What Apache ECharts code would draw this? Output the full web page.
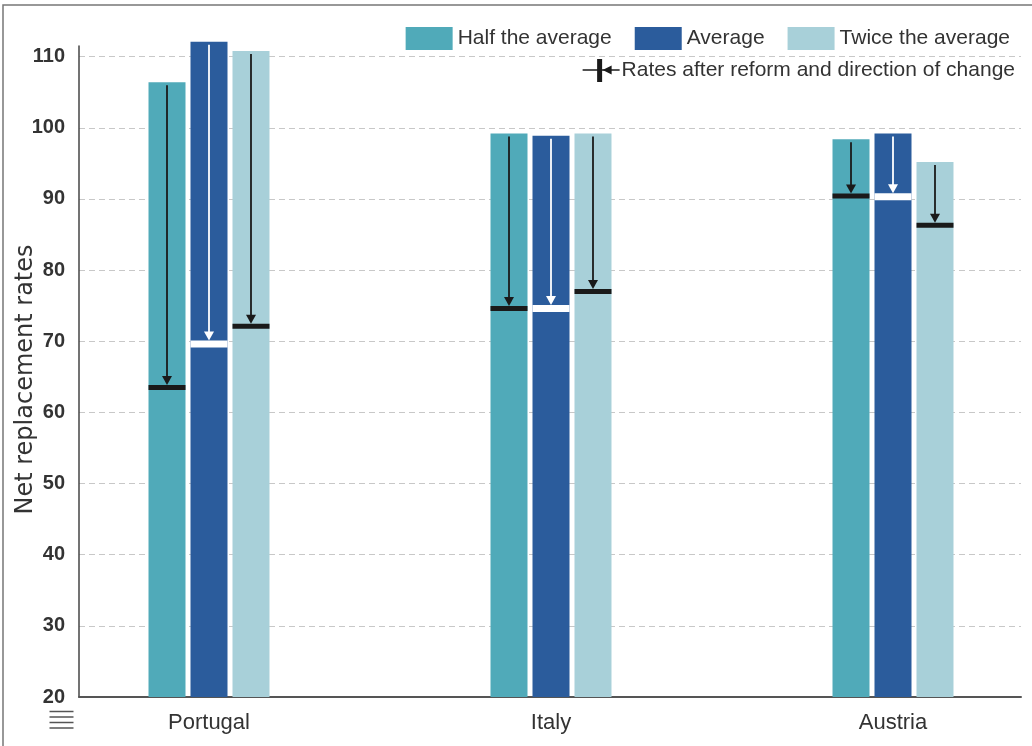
<!DOCTYPE html>
<html>
<head>
<meta charset="utf-8">
<title>Net replacement rates before and after reform</title>
<script src="https://cdn.jsdelivr.net/npm/echarts@6/dist/echarts.min.js"></script>
<style>
  html, body { margin: 0; padding: 0; background: #fff; }
  #chart { width: 1032px; height: 746px; }
</style>
</head>
<body>
<div id="chart"></div>
<script>
// Countries and earnings levels
const categories = ['Portugal', 'Italy', 'Austria'];
const seriesNames = ['Half the average', 'Average', 'Twice the average'];

// Net replacement rates before reform (bar heights)
const halfBefore = [106.4, 99.2, 98.4];
const avgBefore = [112.1, 98.9, 99.2];
const twiceBefore = [110.8, 99.2, 95.2];

// Net replacement rates after reform (markers)
const halfAfter = [63.5, 74.6, 90.4];
const avgAfter = [69.6, 74.6, 90.3];
const twiceAfter = [72.1, 77.0, 86.3];

const reformLabel = 'Rates after reform and direction of change';
const yAxisName = 'Net replacement rates';

const colors = ['#50aab9', '#2b5c9c', '#a8d0d9'];
const SANS = "'Liberation Sans', Arial, sans-serif";
const TEXT = '#333';

// Layout
const Y_MIN = 20, Y_MAX = 111.5;
const GRID_BOTTOM = 49, GRID_TOP = 46;
const BAR_GRID_TOP = 26;
const plotBottom = 746 - GRID_BOTTOM;
const pxPerUnit = (plotBottom - GRID_TOP) / (Y_MAX - Y_MIN);
const BAR_Y_MAX = Y_MIN + (plotBottom - BAR_GRID_TOP) / pxPerUnit;
const BAR_W = 37;
const GAP = 0.135;

const befores = [halfBefore, avgBefore, twiceBefore];
const afters = [halfAfter, avgAfter, twiceAfter];

// One item per bar: [country, level, before, after]
const reformData = [];
categories.forEach((c, ci) => {
  for (let lv = 0; lv < 3; lv++) {
    reformData.push([ci, lv, befores[lv][ci], afters[lv][ci]]);
  }
});

function renderReform(params, api) {
  const ci = api.value(0), lv = api.value(1);
  const top = api.coord([ci, api.value(2)]);
  const bot = api.coord([ci, api.value(3)]);
  const cx = top[0] + (lv - 1) * BAR_W * (1 + GAP);
  const color = lv === 1 ? '#ffffff' : '#1a1a1a';
  const markH = lv === 1 ? 7 : 5;
  const AH = 9;
  const tipY = bot[1] - markH / 2;
  return {
    type: 'group',
    children: [
      { type: 'line', shape: { x1: cx, y1: top[1] + 3, x2: cx, y2: tipY - AH + 1 },
        style: { stroke: color, lineWidth: 1.8 } },
      { type: 'polygon', shape: { points: [[cx - 5, tipY - AH], [cx + 5, tipY - AH], [cx, tipY]] },
        style: { fill: color } },
      { type: 'rect', shape: { x: cx - BAR_W / 2, y: bot[1] - markH / 2, width: BAR_W, height: markH },
        style: { fill: color } }
    ]
  };
}

// Width of the reform legend text, used to place its icon just before it
const LEGEND_FONT = 21;
const measureCtx = document.createElement('canvas').getContext('2d');
measureCtx.font = LEGEND_FONT + 'px ' + SANS;
const reformTextW = measureCtx.measureText(reformLabel).width;
const reformRight = 1015;
const iconRight = reformRight - reformTextW - 2;

const chart = echarts.init(document.getElementById('chart'), null, { renderer: 'canvas' });

chart.setOption({
  animation: false,
  backgroundColor: '#fff',
  grid: [
    { left: 79, right: 11, top: GRID_TOP, bottom: GRID_BOTTOM, outerBoundsMode: 'none' },
    { left: 38, width: 1026, top: BAR_GRID_TOP, bottom: GRID_BOTTOM, outerBoundsMode: 'none' }
  ],
  legend: {
    data: seriesNames,
    right: 17,
    top: 22,
    itemWidth: 47,
    itemHeight: 23,
    itemGap: 23,
    icon: 'rect',
    textStyle: { fontFamily: SANS, fontSize: LEGEND_FONT, color: TEXT }
  },
  xAxis: [
    {
      gridIndex: 0, type: 'value', min: 0, max: 1,
      axisLine: { show: true, onZero: false, lineStyle: { color: '#555', width: 2 } },
      axisTick: { show: false }, axisLabel: { show: false }, splitLine: { show: false }
    },
    {
      gridIndex: 1, type: 'category', data: categories,
      axisLine: { show: false }, axisTick: { show: false },
      axisLabel: { fontFamily: SANS, fontSize: 22, color: TEXT, margin: 15 }
    }
  ],
  yAxis: [
    {
      gridIndex: 0, type: 'value', min: Y_MIN, max: Y_MAX, interval: 10,
      name: yAxisName, nameLocation: 'middle', nameGap: 41, nameRotate: 90,
      nameMoveOverlap: false,
      nameTextStyle: { fontFamily: "'DejaVu Sans', sans-serif", fontSize: 24, color: TEXT,
                       padding: [0, 16, 0, 0] },
      axisLine: { show: true, lineStyle: { color: '#444', width: 1.5 } },
      axisTick: { show: false },
      axisLabel: {
        fontFamily: SANS, fontSize: 20, fontWeight: 'bold', color: TEXT, margin: 14,
        showMaxLabel: false,
        formatter: v => (v % 10 === 0 ? String(v) : '')
      },
      splitLine: {
        show: true, showMinLine: false, showMaxLine: false,
        lineStyle: { color: '#c8c8c8', type: [6, 4], width: 1 }
      }
    },
    {
      gridIndex: 1, type: 'value', min: Y_MIN, max: BAR_Y_MAX, show: false,
      splitLine: { show: false }
    }
  ],
  series: [
    ...seriesNames.map((name, i) => ({
      name, type: 'bar', xAxisIndex: 1, yAxisIndex: 1,
      data: befores[i], barWidth: BAR_W, barGap: (GAP * 100) + '%',
      itemStyle: { color: colors[i] }
    })),
    {
      type: 'custom', xAxisIndex: 1, yAxisIndex: 1, z: 5,
      data: reformData, encode: { x: 0, y: [2, 3] },
      renderItem: renderReform, silent: true
    }
  ],
  graphic: [
    // frame
    { type: 'rect', shape: { x: 3, y: 5, width: 1200, height: 900 },
      style: { fill: null, stroke: '#777', lineWidth: 1.5 }, silent: true },
    // reform legend entry: marker with arrow, then its text
    { type: 'line', shape: { x1: iconRight - 37, y1: 70, x2: iconRight, y2: 70 },
      style: { stroke: '#1a1a1a', lineWidth: 1.5 } },
    { type: 'rect', shape: { x: iconRight - 22.5, y: 59, width: 5, height: 23 }, style: { fill: '#1a1a1a' } },
    { type: 'polygon', shape: { points: [[iconRight - 17, 70], [iconRight - 8, 65.5], [iconRight - 8, 74.5]] },
      style: { fill: '#1a1a1a' } },
    { type: 'text', x: reformRight, y: 70,
      style: { text: reformLabel, fontFamily: SANS, fontSize: LEGEND_FONT, fill: TEXT,
               align: 'right', verticalAlign: 'middle' } },
    // data link mark
    { type: 'group', left: 47, top: 709, children: [0, 1, 2, 3].map(k => ({
        type: 'line', shape: { x1: 0, y1: k * 5.5, x2: 24, y2: k * 5.5 },
        style: { stroke: '#555', lineWidth: 1.5 } })) }
  ]
});
</script>
</body>
</html>
